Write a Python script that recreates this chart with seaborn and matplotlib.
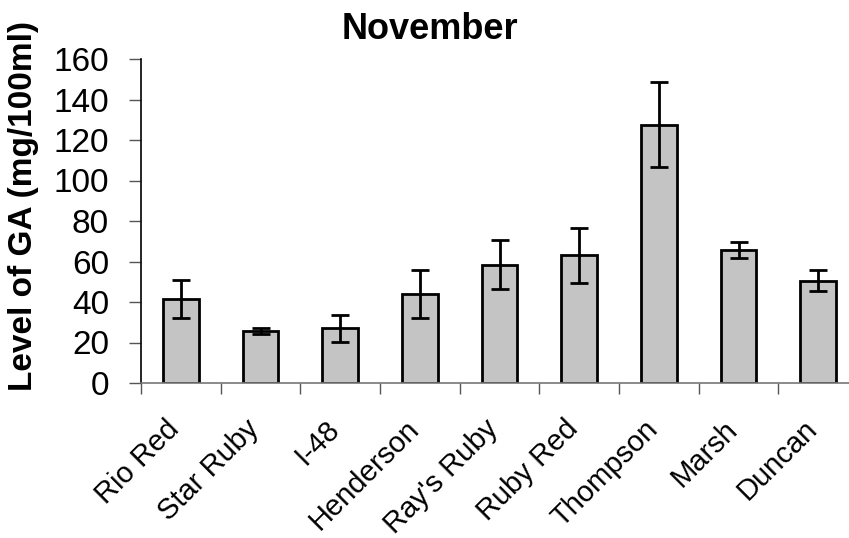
import matplotlib
matplotlib.use("Agg")
import matplotlib.pyplot as plt
import matplotlib.transforms as mtransforms
import seaborn as sns
import pandas as pd
import numpy as np

# GA levels in November by grapefruit cultivar
cultivars = ["Rio Red", "Star Ruby", "I-48", "Henderson", "Ray's Ruby",
             "Ruby Red", "Thompson", "Marsh", "Duncan"]
ga_level = [41.5, 25.8, 27.0, 44.0, 58.5, 63.0, 127.5, 65.7, 50.5]
ga_err = [9.5, 1.6, 6.7, 12.0, 12.0, 13.5, 21.0, 4.0, 5.2]
y_ticks = [0, 20, 40, 60, 80, 100, 120, 140, 160]

df = pd.DataFrame({"cultivar": cultivars, "ga": ga_level, "err": ga_err})

sns.set_theme(style="white")
plt.rcParams["font.family"] = ["Liberation Sans", "DejaVu Sans"]
plt.rcParams["text.color"] = "black"
plt.rcParams["axes.labelcolor"] = "black"
plt.rcParams["xtick.labelcolor"] = "black"
plt.rcParams["ytick.labelcolor"] = "black"

fig = plt.figure(figsize=(8.49, 5.38), dpi=100)
ax = fig.add_axes([141 / 849, 155 / 538, 717 / 849, 324 / 538])

sns.barplot(data=df, x="cultivar", y="ga", errorbar=None, width=0.45,
            color="#c4c4c4", saturation=1, edgecolor="black", linewidth=2,
            ax=ax)
ax.errorbar(np.arange(len(df)), df["ga"], yerr=df["err"], fmt="none",
            ecolor="black", elinewidth=2, capsize=6.5, capthick=2)

ax.set_ylim(0, 160)
ax.set_xlim(-0.5, len(df) - 0.5)
ax.set_yticks(y_ticks)
ax.set_yticklabels([str(t) for t in y_ticks], fontsize=24, color="black")
ax.tick_params(axis="y", direction="out", length=9, width=1, color="#555555",
               pad=14, left=True)

# Category labels at bar centres, tick marks at the category boundaries
ax.set_xticks(np.arange(len(df)))
ax.set_xticklabels(cultivars, rotation=45, ha="right", va="center",
                   rotation_mode="anchor", fontsize=21, color="black")
ax.tick_params(axis="x", which="major", length=0, pad=30)
shift = mtransforms.ScaledTranslation(-4 / 72, 0, fig.dpi_scale_trans)
for lab in ax.get_xticklabels():
    lab.set_transform(lab.get_transform() + shift)
ax.set_xticks(np.arange(len(df) + 1) - 0.5, minor=True)
ax.tick_params(axis="x", which="minor", direction="out", length=8, width=1,
               color="#555555", bottom=True)

for side in ["top", "right"]:
    ax.spines[side].set_visible(False)
ax.spines["left"].set_color("black")
ax.spines["left"].set_linewidth(1.2)
ax.spines["bottom"].set_color("#777777")
ax.spines["bottom"].set_linewidth(1.2)

ax.set_xlabel("")
ax.set_ylabel("Level of GA (mg/100ml)", fontsize=24, fontweight="bold",
              color="black")
ax.yaxis.set_label_coords(-0.142, 0.545)
fig.text(430 / 849, 0.946, "November", ha="center", va="center",
         fontsize=26, fontweight="bold", color="black")

fig.savefig("out.png", dpi=100)
